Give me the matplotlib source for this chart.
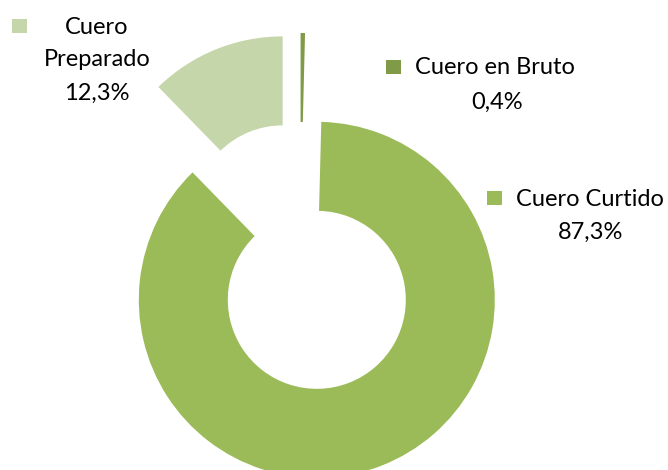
import matplotlib.pyplot as plt
from matplotlib.patches import Rectangle

# data (order as drawn clockwise from 12 o'clock)
categories = ["Cuero en Bruto", "Cuero Curtido", "Cuero Preparado"]
shares = [0.4, 87.3, 12.3]
colors = ["#7F9B48", "#9BBB59", "#C4D6AA"]

plt.rcParams['font.family'] = ['Lato', 'DejaVu Sans']

fig = plt.figure(figsize=(6.68, 4.70), dpi=100)
ax = fig.add_axes([0, 0, 1, 1])

# pixel-like data coordinates, y up
ax.pie(shares, colors=colors, startangle=90, counterclock=False,
       center=(300, 213), radius=178, explode=[46, 46, 46],
       wedgeprops=dict(width=89, linewidth=0))
ax.set_xlim(0, 668)
ax.set_ylim(0, 470)
ax.set_aspect('equal')
ax.axis('off')

fs = 17
# key square position and text lines for each label
label_layout = {
    "Cuero en Bruto": dict(key=(386, 396), lines=[("Cuero en Bruto", 415, 402, 'left'),
                                                  (None, 497, 368, 'center')]),
    "Cuero Curtido": dict(key=(487, 265), lines=[("Cuero Curtido", 516, 271, 'left'),
                                                 (None, 591, 238, 'center')]),
    "Cuero Preparado": dict(key=(12, 437), lines=[("Cuero", 97, 442, 'center'),
                                                  ("Preparado", 97, 410, 'center'),
                                                  (None, 97, 377, 'center')]),
}

for cat, val, col in zip(categories, shares, colors):
    lay = label_layout[cat]
    kx, ky = lay["key"]
    ax.add_patch(Rectangle((kx, ky), 15, 14, color=col, linewidth=0))
    for txt, tx, ty, ha in lay["lines"]:
        if txt is None:
            txt = f"{val:.1f}%".replace(".", ",")
        ax.text(tx, ty, txt, ha=ha, va='center', fontsize=fs, color='black')

fig.savefig("out.png", dpi=100)
